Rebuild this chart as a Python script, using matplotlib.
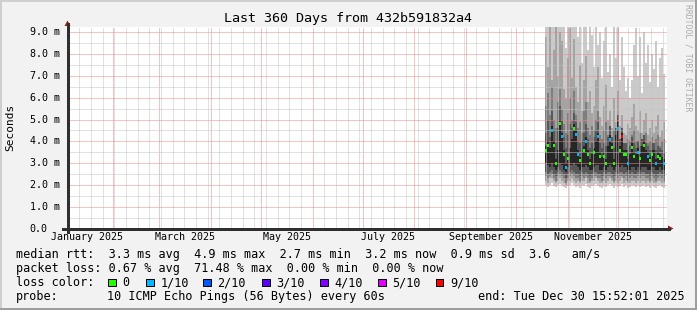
import numpy as np
import pandas as pd
import matplotlib
matplotlib.use("Agg")
import matplotlib.pyplot as plt
import matplotlib.dates as mdates
from matplotlib.patches import Rectangle, Polygon
from matplotlib.lines import Line2D
from matplotlib.transforms import blended_transform_factory
from matplotlib.ticker import MultipleLocator

plt.rcParams["lines.scale_dashes"] = False

# ---------------- data ----------------
title = "Last 360 Days from 432b591832a4"
range_start = "2025-01-04 15:52:01"
range_end = "2025-12-30 15:52:01"
sample_start = "2025-10-18 12:00"
sample_step = "28h48min"

# smoke layers (ms): sorted ping percentiles per time step
ping_min = [2.0, 1.9, 2.0, 2.1, 1.95, 1.9, 2.0, 2.05, 1.95, 1.9,
            1.85, 1.95, 2.0, 2.1, 2.0, 1.9, 1.95, 1.85, 2.0, 1.95,
            2.05, 1.9, 1.85, 1.95, 2.0, 2.05, 1.95, 1.9, 1.85, 1.95,
            1.9, 2.0, 2.05, 1.95, 1.85, 2.0, 1.9, 1.95, 2.05, 1.9,
            2.0, 1.85, 1.9, 2.0, 1.95, 1.9, 2.0, 1.9, 1.95, 2.0,
            1.9, 1.95, 1.85, 2.0, 1.9, 1.85, 1.95, 2.0, 1.9, 1.85]
ping_2 = [2.2, 2.1, 2.3, 2.3, 2.2, 2.1, 2.2, 2.3, 2.2, 2.1,
          2.0, 2.2, 2.2, 2.3, 2.2, 2.1, 2.2, 2.1, 2.2, 2.2,
          2.3, 2.1, 2.1, 2.2, 2.2, 2.3, 2.2, 2.1, 2.1, 2.2,
          2.1, 2.2, 2.3, 2.2, 2.1, 2.2, 2.1, 2.2, 2.3, 2.1,
          2.2, 2.1, 2.1, 2.2, 2.2, 2.1, 2.2, 2.1, 2.2, 2.2,
          2.1, 2.2, 2.1, 2.2, 2.1, 2.1, 2.2, 2.2, 2.1, 2.1]
ping_3 = [2.4, 2.3, 2.4, 2.5, 2.3, 2.2, 2.4, 2.5, 2.4, 2.3,
          2.1, 2.3, 2.4, 2.5, 2.4, 2.3, 2.3, 2.2, 2.4, 2.3,
          2.4, 2.3, 2.2, 2.3, 2.4, 2.4, 2.3, 2.3, 2.2, 2.4,
          2.3, 2.4, 2.4, 2.3, 2.2, 2.4, 2.3, 2.4, 2.4, 2.3,
          2.4, 2.2, 2.3, 2.4, 2.3, 2.3, 2.4, 2.3, 2.4, 2.4,
          2.3, 2.3, 2.2, 2.4, 2.3, 2.2, 2.3, 2.4, 2.3, 2.2]
ping_4 = [2.6, 2.5, 2.6, 2.7, 2.5, 2.4, 2.6, 2.7, 2.6, 2.5,
          2.3, 2.5, 2.6, 2.7, 2.6, 2.5, 2.5, 2.4, 2.6, 2.5,
          2.6, 2.5, 2.4, 2.5, 2.6, 2.6, 2.5, 2.5, 2.4, 2.6,
          2.5, 2.6, 2.6, 2.5, 2.4, 2.6, 2.5, 2.6, 2.6, 2.5,
          2.6, 2.4, 2.5, 2.6, 2.5, 2.5, 2.6, 2.5, 2.6, 2.6,
          2.5, 2.5, 2.4, 2.6, 2.5, 2.4, 2.5, 2.6, 2.5, 2.4]
ping_5 = [3.0, 2.9, 2.8, 3.0, 2.8, 2.7, 2.8, 3.0, 2.9, 2.7,
          2.6, 2.8, 2.9, 2.9, 3.0, 2.9, 2.8, 2.7, 2.8, 2.8,
          2.9, 2.8, 2.7, 2.7, 2.8, 2.9, 2.9, 2.7, 2.7, 2.8,
          2.7, 2.8, 2.9, 2.8, 2.7, 2.8, 2.9, 2.8, 2.9, 2.8,
          2.8, 2.7, 2.7, 2.8, 2.8, 2.7, 2.8, 2.7, 2.8, 2.8,
          2.8, 2.7, 2.7, 2.8, 2.8, 2.7, 2.7, 2.8, 2.7, 2.7]
median_rtt = [3.6, 3.8, 3.5, 4.5, 3.8, 3.0, 3.4, 4.8, 4.2, 3.4,
              2.8, 3.2, 3.5, 3.9, 4.6, 4.3, 3.4, 3.1, 3.3, 3.6,
              4.0, 3.4, 3.0, 3.2, 3.5, 3.8, 4.2, 3.3, 3.1, 3.3,
              3.0, 3.6, 4.1, 3.7, 3.0, 4.0, 4.6, 3.6, 4.2, 3.4,
              3.4, 3.0, 3.2, 3.7, 3.3, 3.2, 3.5, 3.2, 3.6, 3.8,
              3.4, 3.3, 3.1, 3.4, 3.4, 3.0, 3.3, 3.2, 3.1, 3.0]
ping_6 = [3.8, 4.0, 3.7, 4.7, 4.0, 3.2, 3.6, 5.0, 4.4, 3.6,
          3.0, 3.4, 3.7, 4.1, 4.8, 4.5, 3.6, 3.3, 3.5, 3.8,
          4.2, 3.6, 3.2, 3.4, 3.7, 4.0, 4.4, 3.5, 3.3, 3.5,
          3.2, 3.8, 4.3, 3.9, 3.2, 4.3, 4.9, 3.8, 4.4, 3.6,
          3.6, 3.2, 3.4, 3.9, 3.5, 3.4, 3.7, 3.4, 3.8, 4.0,
          3.6, 3.5, 3.3, 3.6, 3.6, 3.2, 3.5, 3.4, 3.3, 3.2]
ping_7 = [4.4, 5.0, 4.2, 5.4, 4.5, 3.9, 4.6, 5.6, 5.0, 4.2,
          3.7, 4.3, 4.8, 4.6, 5.3, 4.9, 4.0, 3.9, 4.0, 4.4,
          4.8, 4.1, 3.7, 3.9, 4.2, 4.5, 4.9, 3.9, 3.7, 3.9,
          3.8, 4.2, 4.7, 4.2, 3.7, 4.6, 5.2, 4.1, 4.6, 3.9,
          3.9, 3.6, 3.8, 4.2, 3.9, 3.7, 4.0, 3.8, 4.1, 4.3,
          3.9, 3.8, 3.6, 3.9, 3.9, 3.6, 3.8, 3.7, 3.6, 3.5]
ping_8 = [5.6, 6.2, 5.2, 6.5, 5.0, 4.6, 5.8, 6.4, 5.5, 4.8,
          4.4, 5.3, 6.0, 5.0, 6.3, 5.2, 4.6, 4.9, 4.4, 5.4,
          5.8, 4.6, 4.3, 4.7, 4.5, 5.0, 5.4, 4.3, 4.1, 4.5,
          4.9, 4.3, 4.6, 4.0, 4.5, 4.3, 5.2, 4.1, 4.5, 3.9,
          3.9, 4.1, 4.0, 4.3, 4.5, 4.0, 3.9, 4.4, 4.0, 4.3,
          4.4, 3.9, 4.0, 4.2, 3.9, 4.1, 4.3, 3.8, 4.0, 4.1]
ping_9 = [8.8, 7.4, 9.5, 6.8, 8.2, 9.5, 7.0, 9.0, 8.6, 6.4,
          6.0, 7.8, 9.2, 6.9, 8.7, 6.5, 5.8, 7.5, 5.4, 6.8,
          7.9, 5.8, 6.3, 5.3, 5.6, 6.8, 7.4, 5.1, 4.7, 5.6,
          6.6, 5.0, 5.4, 4.6, 6.0, 4.9, 6.3, 4.7, 5.2, 4.4,
          4.3, 4.8, 4.6, 5.1, 5.7, 4.7, 4.5, 5.4, 4.4, 5.0,
          5.3, 4.3, 4.6, 5.0, 4.4, 4.7, 5.2, 4.2, 4.5, 4.9]
ping_max = [9.5, 9.5, 9.5, 9.5, 9.5, 9.5, 9.5, 9.5, 9.5, 9.5,
            8.3, 9.5, 9.5, 9.5, 9.5, 9.5, 8.8, 9.5, 7.6, 9.5,
            9.5, 8.2, 9.5, 8.9, 7.4, 9.5, 8.4, 9.0, 6.9, 8.6,
            9.5, 7.2, 8.0, 6.5, 9.5, 7.8, 9.5, 6.8, 8.8, 7.4,
            6.3, 6.9, 6.0, 6.8, 8.4, 9.2, 7.0, 8.8, 6.2, 9.0,
            7.6, 8.4, 6.7, 8.0, 7.3, 8.6, 6.5, 7.8, 8.3, 7.1]
# lost pings (out of 10) at the drawn median; None = no loss-colour mark
loss_tenths = [0, 0, None, 1, 0, 0, None, 0, 1, 0,
               1, 0, None, None, 0, 1, 1, 0, None, 0,
               1, 0, 0, None, 0, None, 1, 0, None, 0,
               0, None, 1, 0, 0, None, 1, 0, 9, 0,
               0, 1, None, 0, 0, None, 1, 0, None, 0,
               None, 1, 0, 0, None, 1, 0, 0, None, 1]

loss_classes = ["0", "1/10", "2/10", "3/10", "4/10", "5/10", "9/10"]
loss_class_values = [0, 1, 2, 3, 4, 5, 9]
loss_colors = ["#26ff00", "#00b8ff", "#0059ff", "#5e00ff", "#7e00ff", "#dd00ff", "#ff0000"]
smoke_colors = ["#cacaca", "#a4a4a4", "#7e7e7e", "#585858", "#262626"]

rtt_stats = [3.3, 4.9, 2.7, 3.2]       # avg max min now (ms)
rtt_sd = 0.9
rtt_ams = 3.6
loss_stats = [0.67, 71.48, 0.00, 0.00]  # avg max min now (%)
probe_text = "10 ICMP Echo Pings (56 Bytes) every 60s"
end_text = "end: Tue Dec 30 15:52:01 2025"

y_max = 9.245
y_major = 1.0
y_minor = 0.5

# ---------------- figure ----------------
W, H = 697, 310
MONO = "DejaVu Sans Mono"

def fx(px):
    return px / W

def fy(py):
    return 1 - py / H

fig = plt.figure(figsize=(W / 100, H / 100), dpi=100, facecolor="#f2f2f2")

# 3D frame
fig.add_artist(Rectangle((0, fy(2)), 1, 2 / H, transform=fig.transFigure, color="#cfcfcf", lw=0))
fig.add_artist(Rectangle((0, 0), 2 / W, 1, transform=fig.transFigure, color="#cfcfcf", lw=0))
fig.add_artist(Rectangle((fx(695), 0), 2 / W, 1, transform=fig.transFigure, color="#9e9e9e", lw=0))
fig.add_artist(Rectangle((0, 0), 1, 2 / H, transform=fig.transFigure, color="#9e9e9e", lw=0))

ax = fig.add_axes([fx(67), fy(228.5), (667 - 67) / W, (228.5 - 27) / H])
ax.set_facecolor("white")
for s in ax.spines.values():
    s.set_visible(False)

t0 = pd.Timestamp(range_start)
t1 = pd.Timestamp(range_end)
times = pd.date_range(sample_start, periods=len(median_rtt), freq=sample_step)
xnum = mdates.date2num(times.to_pydatetime())
step = xnum[1] - xnum[0]
xedges = np.append(xnum, xnum[-1] + step)

def ext(a):
    a = np.asarray(a, dtype=float)
    return np.append(a, a[-1])

lows = [ping_min, ping_2, ping_3, ping_4, ping_5]
highs = [ping_max, ping_9, ping_8, ping_7, ping_6]
for lo, hi, c in zip(lows, highs, smoke_colors):
    ax.fill_between(xedges, ext(lo), ext(hi), step="post", color=c, lw=0,
                    zorder=1, antialiased=False)

# median marks coloured by loss
med = np.asarray(median_rtt)
for i, lv in enumerate(loss_tenths):
    if lv is None:
        continue
    c = loss_colors[loss_class_values.index(lv)]
    ax.bar(xnum[i], 0.14, bottom=med[i] - 0.07, width=step * 0.9, align="edge",
           color=c, lw=0, zorder=4)

ax.set_xlim(mdates.date2num(t0.to_pydatetime()), mdates.date2num(t1.to_pydatetime()))
ax.set_ylim(0, y_max)

# grid (dotted, 1px on / 1px off)
ax.xaxis.set_major_locator(mdates.MonthLocator())
ax.xaxis.set_minor_locator(mdates.WeekdayLocator(byweekday=mdates.SU))
ax.yaxis.set_major_locator(MultipleLocator(y_major))
ax.yaxis.set_minor_locator(MultipleLocator(y_minor))
ax.grid(which="minor", color="#c4c4c4", lw=0.72, linestyle=(0, (0.72, 0.72)))
ax.grid(which="major", color="#e88a8a", lw=0.72, linestyle=(0, (0.72, 0.72)))
ax.set_axisbelow(False)
ax.tick_params(which="both", length=0, labelbottom=False, labelleft=False)
for gl in ax.get_xgridlines() + ax.get_ygridlines():
    gl.set_zorder(2.5)

# axes lines and arrows
axis_col = "#2f2f2f"
fig.add_artist(Line2D([fx(63), fx(669)], [fy(228.5), fy(228.5)], transform=fig.transFigure,
                      color=axis_col, lw=0.8, antialiased=False))
fig.add_artist(Line2D([fx(67.5), fx(67.5)], [fy(232), fy(24)], transform=fig.transFigure,
                      color=axis_col, lw=0.8, antialiased=False))
arrow_col = "#9b1c1c"
fig.add_artist(Polygon([(fx(64.5), fy(26)), (fx(70.5), fy(26)), (fx(67.5), fy(20.5))],
                       closed=True, transform=fig.transFigure, color=arrow_col, lw=0))
fig.add_artist(Polygon([(fx(668), fy(225.5)), (fx(668), fy(231.5)), (fx(673.5), fy(228.5))],
                       closed=True, transform=fig.transFigure, color=arrow_col, lw=0))

# y tick labels
ytrans = blended_transform_factory(fig.transFigure, ax.transData)
for v in np.arange(0, 9.01, y_major):
    lab = "0.0" if v == 0 else f"{v:.1f} m"
    ax.text(fx(29.5), v, lab, transform=ytrans, ha="left", va="center",
            fontsize=7.2, family=MONO, color="#000000")

# x month labels centred in their month (every 2 months)
xtrans = blended_transform_factory(ax.transData, fig.transFigure)
for m in range(1, 12, 2):
    ms = pd.Timestamp(2025, m, 1)
    me = pd.Timestamp(2025, m + 1, 1)
    mid = mdates.date2num((ms + (me - ms) / 2).to_pydatetime())
    ax.text(mid, fy(237.5), ms.strftime("%B %Y"), transform=xtrans, ha="center",
            va="center", fontsize=7.2, family=MONO, clip_on=False)

# title, y label, side text
fig.text(0.5, fy(18.5), title, ha="center", va="center", fontsize=9.6, family=MONO)
fig.text(fx(10.5), fy(127), "Seconds", rotation=90, ha="center", va="center",
         fontsize=8, family=MONO)
fig.text(fx(688), fy(3.5), "RRDTOOL / TOBI OETIKER", rotation=270, ha="center", va="top",
         fontsize=5.9, family=MONO, color="#ababab")

# legend
fs = 8.5
line1 = ("median rtt:  " + "  ".join(f"{v:.1f} ms {n}" for v, n in
                                     zip(rtt_stats, ["avg", "max", "min", "now"]))
         + f"  {rtt_sd:.1f} ms sd  {rtt_ams:.1f}   am/s")
line2 = ("packet loss: " + "  ".join(f"{v:.2f} % {n}" for v, n in
                                     zip(loss_stats, ["avg", "max", "min", "now"])))
fig.text(fx(15.5), fy(254.5), line1, ha="left", va="center", fontsize=fs, family=MONO)
fig.text(fx(15.5), fy(268.5), line2, ha="left", va="center", fontsize=fs, family=MONO)
fig.text(fx(15.5), fy(282.5), "loss color:", ha="left", va="center", fontsize=fs, family=MONO)
box_x = [108, 146, 203, 262, 320, 378, 436]
for bx, lab, c in zip(box_x, loss_classes, loss_colors):
    fig.add_artist(Rectangle((fx(bx), fy(286)), 7.5 / W, 7.5 / H, transform=fig.transFigure,
                             facecolor=c, edgecolor="black", lw=0.72))
    fig.text(fx(bx + 14.5), fy(282.5), lab, ha="left", va="center", fontsize=fs, family=MONO)
fig.text(fx(15.5), fy(296.5), "probe:", ha="left", va="center", fontsize=fs, family=MONO)
fig.text(fx(107), fy(296.5), probe_text, ha="left", va="center", fontsize=fs, family=MONO)
fig.text(fx(478), fy(296.5), end_text, ha="left", va="center", fontsize=fs, family=MONO)

fig.savefig("out.png", dpi=100, facecolor=fig.get_facecolor())
